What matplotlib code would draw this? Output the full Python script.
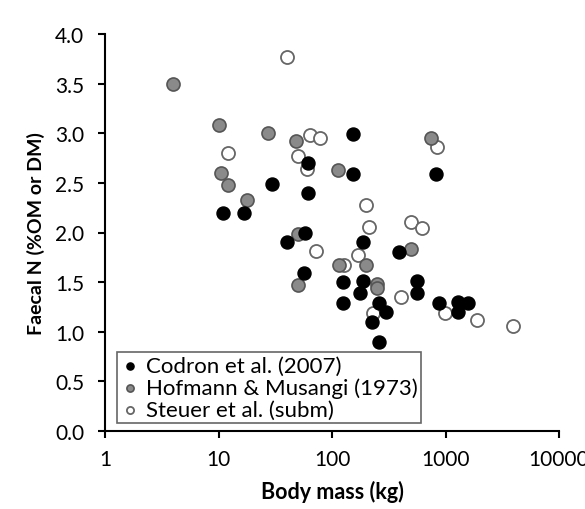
import matplotlib
matplotlib.use("Agg")
import matplotlib.pyplot as plt

plt.rcParams['font.family'] = ['Lato', 'DejaVu Sans']

# Codron et al. (2007)
codron_mass = [11, 16.9, 29.8, 40.4, 57.4, 56.6, 61, 61, 154, 154, 126, 126, 186, 186,
               177, 258, 297, 224, 258, 389, 565, 565, 820, 882, 1297, 1297, 1588]
codron_n = [2.2, 2.2, 2.49, 1.9, 2.0, 1.59, 2.4, 2.7, 2.99, 2.59, 1.5, 1.29, 1.9, 1.51,
            1.39, 1.29, 1.2, 1.1, 0.9, 1.8, 1.51, 1.39, 2.59, 1.29, 1.3, 1.2, 1.29]

# Hofmann & Musangi (1973)
hofmann_mass = [4, 10, 10.5, 12.05, 17.8, 27.1, 48.5, 50.5, 49.9, 113, 116, 199,
                248, 248, 497, 745]
hofmann_n = [3.5, 3.08, 2.6, 2.48, 2.33, 3.0, 2.92, 1.98, 1.47, 2.63, 1.67, 1.67,
             1.48, 1.44, 1.83, 2.95]

# Steuer et al. (subm)
steuer_mass = [12.05, 40.4, 63.6, 78.8, 49.9, 59.8, 71.8, 128, 170.6, 199, 213, 228,
               408, 497, 621, 836, 984, 1884, 3956]
steuer_n = [2.8, 3.77, 2.98, 2.95, 2.77, 2.64, 1.81, 1.67, 1.77, 2.28, 2.06, 1.19,
            1.35, 2.11, 2.05, 2.86, 1.19, 1.12, 1.06]

labels = ["Codron et al. (2007)", "Hofmann & Musangi (1973)", "Steuer et al. (subm)"]
x_ticks = [1, 10, 100, 1000, 10000]
x_ticklabels = ["1", "10", "100", "1000", "10000"]
y_ticks = [0.0, 0.5, 1.0, 1.5, 2.0, 2.5, 3.0, 3.5, 4.0]

fig = plt.figure(figsize=(5.85, 5.10), dpi=100)
ax = fig.add_axes([105/585, 1-432/510, (559-105)/585, (432-35)/510])

s = 88
ax.scatter(steuer_mass, steuer_n, s=s, facecolor='white', edgecolor='#666666',
           linewidth=1.3, label=labels[2], zorder=3)
ax.scatter(hofmann_mass, hofmann_n, s=s, facecolor='#8a8a8a', edgecolor='#555555',
           linewidth=1.2, label=labels[1], zorder=3)
ax.scatter(codron_mass, codron_n, s=s, facecolor='black', edgecolor='black',
           linewidth=1.0, label=labels[0], zorder=3)

ax.set_xscale('log')
ax.set_xlim(1, 10000)
ax.set_ylim(0, 4.0)
ax.set_xticks(x_ticks)
ax.set_xticklabels(x_ticklabels)
ax.minorticks_off()
ax.set_yticks(y_ticks)
ax.set_yticklabels([f"{v:.1f}" for v in y_ticks])

for sp in ['top', 'right']:
    ax.spines[sp].set_visible(False)
for sp in ['left', 'bottom']:
    ax.spines[sp].set_linewidth(1.5)
    ax.spines[sp].set_color('black')

ax.tick_params(axis='both', direction='out', length=5, width=1.5, labelsize=15,
               colors='black')
ax.tick_params(axis='y', pad=10)
ax.tick_params(axis='x', pad=8)

ax.set_xlabel("Body mass (kg)", fontsize=15.5, fontweight='bold', labelpad=8)
ax.set_ylabel("Faecal N (%OM or DM)", fontsize=14, fontweight='bold', labelpad=7)

h, l = ax.get_legend_handles_labels()
order = [2, 1, 0]
leg = ax.legend([h[i] for i in order], [l[i] for i in order], loc='lower left',
                bbox_to_anchor=(0.026, 0.02), borderaxespad=0, fontsize=16,
                markerscale=0.55, handlelength=0.9, handletextpad=0.25,
                borderpad=0.15, labelspacing=0.08, fancybox=False, framealpha=1,
                edgecolor='#666666')
leg.get_frame().set_linewidth(1.2)

fig.savefig("out.png", dpi=100, facecolor='white')
